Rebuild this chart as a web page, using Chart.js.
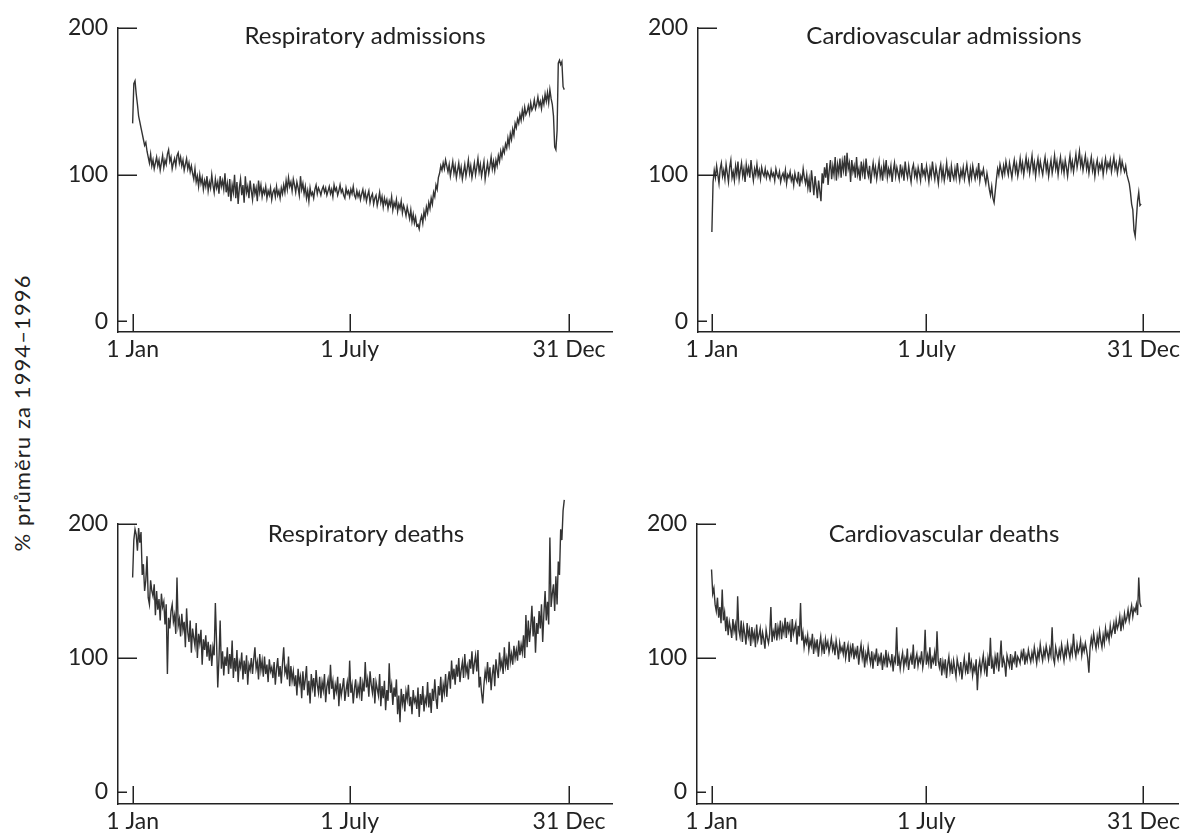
<!DOCTYPE html>
<html>
<head>
<meta charset="utf-8">
<script src="https://cdn.jsdelivr.net/npm/chart.js@4.4.1/dist/chart.umd.min.js"></script>
<style>
  html, body { margin: 0; padding: 0; background: #fff; }
  body { width: 1184px; height: 833px; position: relative; overflow: hidden; }
  canvas { position: absolute; }
  #ylabel {
    position: absolute; left: 21px; top: 413px;
    transform: translate(-50%, -50%) rotate(-90deg);
    font-family: Lato, "DejaVu Sans", sans-serif; font-size: 22px; letter-spacing: 1.1px;
    color: #222; white-space: nowrap;
  }
</style>
</head>
<body>
<div id="ylabel">% průměru za 1994–1996</div>
<canvas id="c1" width="630" height="380" style="left:0;top:0"></canvas>
<canvas id="c2" width="554" height="380" style="left:630px;top:0"></canvas>
<canvas id="c3" width="630" height="413" style="left:0;top:420px"></canvas>
<canvas id="c4" width="554" height="413" style="left:630px;top:420px"></canvas>
<script>
// Tick positions (day index, 0 = 1 Jan) and labels
const xTickDays = [0, 181, 364];
const xTickLabels = ['1 Jan', '1 July', '31 Dec'];
const yTickValues = [0, 100, 200];
const panelTitles = ['Respiratory admissions', 'Cardiovascular admissions', 'Respiratory deaths', 'Cardiovascular deaths'];

// Daily values, % of the 1994–1996 mean
const respAdmissions = [
135,162,164,155,148,140,136,132,128,124,
120,122,116,112,108,114,106,110,104,108,
112,106,110,103,108,113,105,110,107,114,
117,109,112,104,108,111,106,113,115,108,
112,106,110,103,107,111,104,108,102,106,
101,97,104,95,99,92,100,94,98,90,
96,92,99,89,95,91,100,93,88,97,
91,95,87,99,92,96,90,101,88,94,
85,97,82,93,88,100,84,95,80,91,
97,86,93,81,99,88,92,84,96,89,
83,94,87,91,82,96,88,93,85,90,
87,92,84,89,86,91,83,88,90,85,
92,86,89,84,91,87,93,88,96,90,
98,92,95,89,97,93,88,95,91,86,
99,90,94,87,92,84,89,82,91,86,
88,84,90,93,87,91,89,86,90,92,
88,91,86,89,92,87,90,85,93,89,
91,86,89,93,88,90,86,84,91,87,
89,85,90,87,92,86,84,89,85,88,
83,87,90,84,88,82,86,89,81,85,
87,80,84,86,79,83,88,81,85,78,
84,80,83,77,82,79,85,76,81,78,
83,75,80,77,82,74,79,76,72,78,
74,70,76,68,73,67,71,65,66,63,
69,72,67,75,71,78,74,81,77,84,
80,88,85,93,90,98,101,106,103,108,
104,110,106,102,107,99,104,109,101,106,
98,103,108,100,105,97,102,107,99,104,
110,101,106,98,103,108,100,105,111,102,
107,99,104,109,97,103,108,101,106,112,
104,109,103,110,106,113,109,116,112,118,
115,121,118,125,120,128,124,131,127,135,
132,138,135,141,137,144,139,146,141,143,
147,142,149,144,146,151,145,148,153,147,
150,145,152,148,155,150,156,149,158,152,
148,140,119,117,130,176,178,175,177,160,
158
];
const cardAdmissions = [
61,95,103,98,106,100,94,104,108,99,
103,97,107,101,95,105,110,98,102,96,
106,100,109,97,103,108,99,104,95,107,
101,105,98,110,102,96,104,100,107,99,
103,97,105,101,99,104,98,102,100,97,
103,99,101,96,104,100,98,102,95,99,
101,97,103,94,100,98,102,96,99,93,
101,97,95,102,92,99,96,104,98,94,
100,91,97,88,103,95,86,99,92,84,
96,89,82,101,94,105,98,108,93,103,
110,97,106,100,112,96,107,101,111,98,
109,103,113,99,115,104,108,95,110,102,
106,98,112,100,104,96,109,101,107,97,
111,103,99,106,94,102,108,100,105,97,
103,109,99,104,96,107,101,110,98,104,
100,106,95,103,108,99,105,101,97,107,
100,104,96,109,102,98,106,100,95,104,
107,99,103,97,105,101,96,108,100,103,
98,106,101,95,104,99,109,102,97,105,
100,94,103,107,98,104,96,101,108,99,
103,95,106,100,97,104,98,108,101,96,
103,99,105,97,102,107,100,95,104,98,
106,101,97,103,99,108,96,102,100,104,
98,94,101,96,90,86,92,84,81,89,
97,104,100,107,103,99,106,101,109,104,
100,108,103,98,105,110,102,107,99,104,
111,103,108,100,106,112,104,109,101,107,
113,103,108,99,106,111,102,109,104,100,
107,112,103,108,99,105,110,101,106,113,
104,109,100,107,112,103,108,101,110,105,
99,107,113,104,109,102,108,114,105,110,
116,106,111,103,108,113,104,109,101,107,
112,103,108,99,106,110,102,107,104,109,
100,106,111,103,108,105,110,102,107,112,
104,108,101,106,111,103,109,105,102,106,
100,97,94,88,80,76,62,58,70,82,
88,79,80
];
const respDeaths = [
160,188,196,192,180,197,186,194,162,170,
150,158,176,145,140,158,150,146,155,132,
150,136,144,128,148,138,142,125,140,88,
130,122,135,140,127,132,118,160,124,129,
116,133,121,127,108,137,119,112,128,104,
122,115,109,126,100,118,111,121,95,114,
106,117,101,112,98,110,94,108,102,141,
112,78,99,128,92,105,87,101,94,108,
88,103,92,113,85,100,90,106,82,97,
93,104,84,98,88,102,80,95,91,100,
88,99,108,92,97,84,103,91,98,86,
101,88,95,82,99,90,93,85,97,80,
92,100,86,94,81,96,108,89,93,84,
101,79,94,83,90,79,87,72,92,81,
86,70,90,76,84,94,72,83,66,88,
78,85,71,91,80,74,86,70,82,76,
88,67,79,84,73,95,77,83,69,80,
75,86,64,81,72,78,85,68,76,82,
71,98,74,80,66,77,84,70,79,73,
86,68,81,75,97,78,84,71,90,80,
74,85,66,82,77,72,88,64,79,70,
83,61,76,68,96,74,80,65,78,71,
84,58,72,52,77,66,73,60,75,69,
80,64,71,58,76,67,70,62,78,56,
73,65,79,60,70,66,82,63,74,59,
77,68,84,70,62,79,72,86,67,80,
74,88,71,83,90,77,98,84,92,80,
95,86,100,82,91,97,85,103,89,94,
84,99,92,105,88,96,102,90,106,78,
86,74,66,80,90,84,97,82,93,76,
88,95,79,99,91,85,104,93,98,88,
108,94,100,91,112,97,103,95,109,100,
106,98,113,102,110,104,117,100,132,108,
128,112,123,139,116,131,104,126,118,135,
122,140,112,133,150,128,142,125,190,138,
148,155,135,161,140,172,162,196,188,210,
218
];
const cardDeaths = [
166,148,152,140,135,145,130,138,126,151,
128,134,120,131,117,127,122,115,129,120,
125,113,146,121,116,128,112,124,118,110,
126,116,121,109,123,114,119,108,125,113,
117,122,110,119,114,107,121,115,111,118,
138,112,120,116,126,113,123,117,128,114,
124,119,130,115,127,120,125,112,129,118,
122,126,110,124,116,141,113,119,108,115,
111,117,106,113,109,118,103,112,107,114,
101,110,116,105,111,103,114,108,112,104,
109,115,106,110,102,113,107,99,111,105,
108,103,112,100,106,110,97,108,103,111,
99,106,102,109,95,104,110,100,106,93,
103,98,108,101,96,105,92,102,99,107,
94,101,97,104,91,100,96,106,93,102,
98,95,103,90,100,97,123,94,101,92,
99,104,93,100,96,107,91,98,102,95,
110,92,99,103,94,100,97,105,93,99,
121,95,102,96,108,92,100,97,104,94,
120,98,93,100,87,97,91,99,85,95,
101,90,96,88,98,92,86,99,94,89,
97,84,93,100,90,95,88,104,92,97,
87,94,90,99,76,93,98,89,96,102,
91,97,86,100,94,115,92,98,88,101,
95,104,90,99,113,93,100,96,86,102,
98,94,103,91,100,97,105,93,101,99,
96,104,100,107,95,102,98,106,101,97,
104,99,108,102,96,105,100,110,103,98,
106,101,109,104,99,107,102,123,100,96,
108,103,99,106,101,110,104,98,107,102,
111,105,100,108,103,118,106,101,110,104,
107,113,102,109,105,111,106,100,89,108,
115,109,118,112,107,116,110,120,113,108,
117,111,122,115,119,113,124,117,121,126,
118,128,122,125,131,120,129,124,133,127,
130,136,128,134,139,131,137,135,140,132,
160,141,138
];

const FONT = 'Lato, "DejaVu Sans", sans-serif';
const INK = '#222';

const decor = {
  id: 'decor',
  afterDraw(chart, args, opts) {
    const ctx = chart.ctx;
    const xs = chart.scales.x, ys = chart.scales.y;
    const area = chart.chartArea;
    ctx.save();
    ctx.strokeStyle = INK;
    ctx.lineWidth = 1.5;
    ctx.beginPath();
    yTickValues.forEach(v => {
      const py = Math.round(ys.getPixelForValue(v)) + 0.25;
      const len = v === 0 ? 9 : 19;
      ctx.moveTo(area.left, py);
      ctx.lineTo(area.left + len, py);
    });
    xTickDays.forEach(d => {
      const px = Math.round(xs.getPixelForValue(d)) + 0.25;
      ctx.moveTo(px, area.bottom);
      ctx.lineTo(px, area.bottom - 18);
    });
    ctx.stroke();
    ctx.fillStyle = INK;
    ctx.font = '24px ' + FONT;
    ctx.textAlign = 'center';
    ctx.textBaseline = 'alphabetic';
    ctx.fillText(opts.title, opts.tx, opts.ty);
    ctx.restore();
  }
};

function makeChart(id, values, cfg) {
  const pts = values.map((v, i) => ({ x: i, y: v }));
  return new Chart(document.getElementById(id), {
    type: 'line',
    data: { datasets: [{
      data: pts,
      borderColor: '#333',
      borderWidth: 1.4,
      pointRadius: 0,
      tension: 0,
      clip: false
    }]},
    options: {
      responsive: false,
      animation: false,
      devicePixelRatio: 1,
      layout: { padding: cfg.pad },
      plugins: {
        legend: { display: false },
        tooltip: { enabled: false },
        decor: { title: cfg.title, tx: cfg.tx, ty: cfg.ty }
      },
      scales: {
        x: {
          type: 'linear',
          min: cfg.xmin, max: cfg.xmax,
          grid: { display: false, drawTicks: false },
          border: { display: true, color: INK, width: 1.5 },
          afterBuildTicks: s => { s.ticks = xTickDays.map(v => ({ value: v })); },
          afterFit: s => { s.height = cfg.xh; },
          ticks: {
            autoSkip: false, maxRotation: 0, padding: cfg.xpad,
            color: INK, font: { family: FONT, size: 23 },
            callback: (v) => xTickLabels[xTickDays.indexOf(v)]
          }
        },
        y: {
          type: 'linear',
          min: cfg.ymin, max: 200,
          grid: { display: false, drawTicks: false },
          border: { display: true, color: INK, width: 1.5 },
          afterBuildTicks: s => { s.ticks = yTickValues.map(v => ({ value: v })); },
          afterFit: s => { s.width = cfg.yw; },
          ticks: {
            padding: 10,
            color: INK, font: { family: FONT, size: 23 },
            callback: v => String(v)
          }
        }
      }
    },
    plugins: [decor]
  });
}

makeChart('c1', respAdmissions, { pad: {top: 28, right: 18, left: 0, bottom: 0}, yw: 118, xh: 48, xpad: 4,
  xmin: -12.2, xmax: 399.8, ymin: -7.2, title: panelTitles[0], tx: 365, ty: 44 });
makeChart('c2', cardAdmissions, { pad: {top: 28, right: 0, left: 0, bottom: 0}, yw: 68, xh: 48, xpad: 4,
  xmin: -11.7, xmax: 394.7, ymin: -7.2, title: panelTitles[1], tx: 314, ty: 44 });
makeChart('c3', respDeaths, { pad: {top: 104, right: 18, left: 0, bottom: 0}, yw: 118, xh: 29, xpad: 4,
  xmin: -12.2, xmax: 399.8, ymin: -9, title: panelTitles[2], tx: 366, ty: 542 - 420 });
makeChart('c4', cardDeaths, { pad: {top: 104, right: 0, left: 0, bottom: 0}, yw: 67, xh: 29, xpad: 4,
  xmin: -12.25, xmax: 393.7, ymin: -9, title: panelTitles[3], tx: 314, ty: 542 - 420 });
</script>
</body>
</html>
